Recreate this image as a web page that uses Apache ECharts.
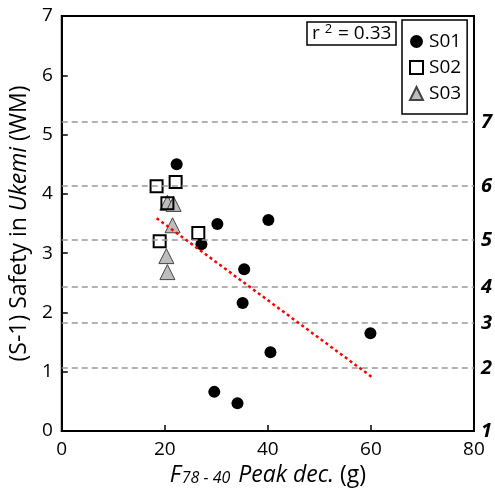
<!DOCTYPE html>
<html><head><meta charset="utf-8">
<script src="https://cdn.jsdelivr.net/npm/echarts@6/dist/echarts.min.js"></script>
<style>html,body{margin:0;padding:0;background:#fff}#c{width:495px;height:499px}</style>
</head><body><div id="c"></div>
<script>
// Data
const s01 = [[22.3,4.50],[30.2,3.49],[40.1,3.56],[27.1,3.15],[35.4,2.73],[35.1,2.16],[59.9,1.65],[40.5,1.33],[29.6,0.66],[34.1,0.47]];
const s02 = [[18.4,4.13],[22.1,4.20],[20.5,3.84],[26.5,3.34],[19.0,3.20]];
const s03 = [[20.5,3.85],[21.7,3.83],[21.5,3.47],[20.3,2.95],[20.5,2.68]];
const trend = [[18.4,3.59],[60.2,0.91]];
const rightTickPos = [0, 1.06, 1.82, 2.43, 3.22, 4.13, 5.21];
const rightTickLabels = ['1','2','3','4','5','6','7'];
const gridLinePos = [1.06, 1.82, 2.43, 3.22, 4.13, 5.21];
const rSquared = '0.33';

const FONT = 'Open Sans';
const chart = echarts.init(document.getElementById('c'), null, {renderer:'canvas'});
chart.setOption({
  animation:false,
  textStyle:{fontFamily:FONT, color:'#000'},
  title:{text:'{n|r }{sup|2}{n| = ' + rSquared + '}', left:307, top:22, padding:[1,5,2,5], borderColor:'#000', borderWidth:1.5,
    textStyle:{fontFamily:FONT, fontSize:19, fontWeight:'normal', color:'#000',
      rich:{n:{fontFamily:FONT, fontSize:19, color:'#000'},
            sup:{fontFamily:FONT, fontSize:13, color:'#000', padding:[0,1,8,0]}}}},
  legend:{data:['S01','S02','S03'], orient:'vertical', left:402, top:20, width:71,
    padding:[12,6,11,7], itemGap:7, itemWidth:13, itemHeight:13,
    borderColor:'#000', borderWidth:1.5, backgroundColor:'#fff',
    textStyle:{fontFamily:FONT, fontSize:19, color:'#000', padding:[0,0,0,1]}},
  grid:{left:61, right:21, top:16, bottom:68, show:true, borderColor:'#000', borderWidth:2},
  xAxis:{type:'value', min:0, max:80, interval:20,
    axisLine:{lineStyle:{color:'#000', width:2}},
    axisTick:{inside:true, length:6, lineStyle:{color:'#000', width:1.5}},
    axisLabel:{fontFamily:FONT, fontSize:19, color:'#000', margin:9},
    splitLine:{show:false},
    name:'{it|F}{sub|78 - 40}{it| Peak dec.}{n| (g)}', nameLocation:'middle', nameGap:32,
    nameTextStyle:{rich:{
      it:{fontFamily:FONT, fontSize:23, fontStyle:'italic', color:'#000'},
      sub:{fontFamily:FONT, fontSize:16, fontStyle:'italic', color:'#000', padding:[7,2,0,1]},
      n:{fontFamily:FONT, fontSize:23, color:'#000'}}}},
  yAxis:[{type:'value', min:0, max:7, interval:1,
    axisLine:{show:true, lineStyle:{color:'#000', width:2}},
    axisTick:{show:true, inside:true, length:6, lineStyle:{color:'#000', width:1.5}},
    axisLabel:{fontFamily:FONT, fontSize:19, color:'#000', margin:9},
    splitLine:{show:false},
    name:'{n|(S-1) Safety in }{it|Ukemi}{n| (WM)}', nameLocation:'middle', nameGap:22, nameRotate:90,
    nameTextStyle:{rich:{
      it:{fontFamily:FONT, fontSize:23, fontStyle:'italic', color:'#000'},
      n:{fontFamily:FONT, fontSize:23, color:'#000'}}}},
   {type:'value', min:0, max:7, position:'right',
    axisLine:{show:true, lineStyle:{color:'#000', width:2}},
    axisTick:{show:false},
    splitLine:{show:false},
    axisLabel:{customValues:rightTickPos, fontFamily:FONT, fontSize:20, fontWeight:'bold', fontStyle:'italic', color:'#000', margin:7,
      formatter:function(v){ let best=0; for(let i=0;i<rightTickPos.length;i++){ if(Math.abs(rightTickPos[i]-v)<Math.abs(rightTickPos[best]-v)) best=i; } return rightTickLabels[best]; }}}],
  series:[
    {name:'S03', type:'scatter', data:s03, symbol:'triangle', symbolSize:15, z:2,
      itemStyle:{color:'#bdbdbd', borderColor:'#444', borderWidth:1, opacity:1},
      markLine:{silent:true, symbol:['none','none'], label:{show:false},
        lineStyle:{color:'#999', type:[6,4], width:1.5},
        data:gridLinePos.map(v=>({yAxis:v}))}},
    {name:'S02', type:'scatter', data:s02, symbol:'rect', symbolSize:12, z:3,
      itemStyle:{color:'rgba(255,255,255,0)', borderColor:'#000', borderWidth:2, opacity:1}},
    {name:'S01', type:'scatter', data:s01, symbol:'circle', symbolSize:12, z:4,
      itemStyle:{color:'#000', opacity:1}},
    {name:'trend', type:'line', data:trend, symbol:'none', z:5,
      lineStyle:{color:'#ff0000', width:2.5, type:[3,3]}}
  ]
});
</script></body></html>
